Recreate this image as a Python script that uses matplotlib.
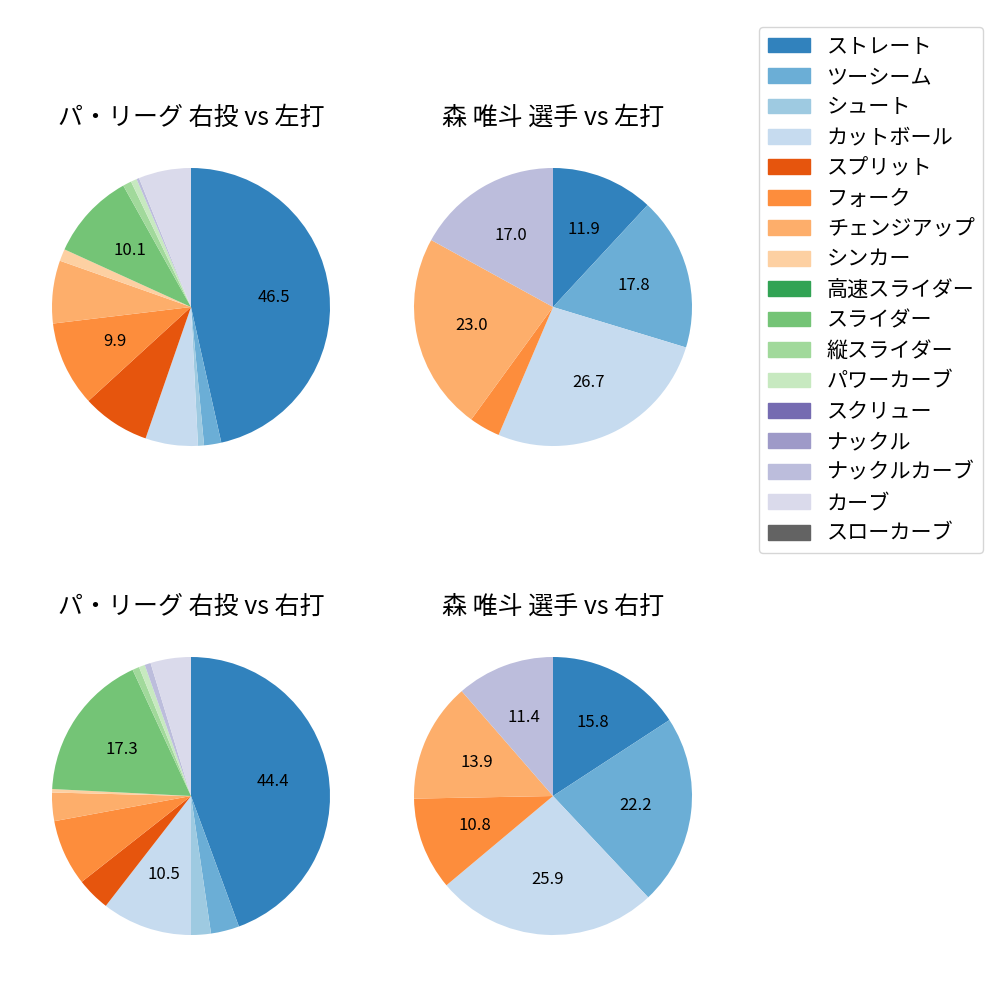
import matplotlib
matplotlib.use("Agg")
import matplotlib.pyplot as plt
from matplotlib.patches import Patch

plt.rcParams['font.family'] = ['Noto Sans CJK JP', 'DejaVu Sans']

pitch_types = ['ストレート', 'ツーシーム', 'シュート', 'カットボール', 'スプリット', 'フォーク',
               'チェンジアップ', 'シンカー', '高速スライダー', 'スライダー', '縦スライダー',
               'パワーカーブ', 'スクリュー', 'ナックル', 'ナックルカーブ', 'カーブ', 'スローカーブ']

# share of pitches (%) in the same order as pitch_types
league_vs_left = [46.5, 2.0, 0.7, 6.1, 7.9, 9.9, 7.3, 1.4, 0, 10.1, 1.0, 0.7, 0, 0, 0.3, 6.1, 0]
player_vs_left = [11.9, 17.8, 0, 26.7, 0, 3.6, 23.0, 0, 0, 0, 0, 0, 0, 0, 17.0, 0, 0]
league_vs_right = [44.4, 3.3, 2.3, 10.5, 3.9, 7.7, 3.3, 0.4, 0, 17.3, 0.8, 0.7, 0, 0, 0.7, 4.7, 0]
player_vs_right = [15.8, 22.2, 0, 25.9, 0, 10.8, 13.9, 0, 0, 0, 0, 0, 0, 0, 11.4, 0, 0]

titles = ['パ・リーグ 右投 vs 左打', '森 唯斗 選手 vs 左打',
          'パ・リーグ 右投 vs 右打', '森 唯斗 選手 vs 右打']

cmap = plt.get_cmap('tab20c')
colors = [cmap(i) for i in range(len(pitch_types))]


def draw_pie(ax, values, title):
    vals = [v for v in values if v > 0]
    cols = [c for v, c in zip(values, colors) if v > 0]
    ax.pie(vals, colors=cols, startangle=90, counterclock=False,
           autopct=lambda p: '{:.1f}'.format(p) if p >= 9 else '',
           textprops={'fontsize': 12})
    ax.set_title(title, fontsize=18)


fig = plt.figure(figsize=(10, 10), dpi=100)
size = 0.3475
centers = [(0.191, 0.693), (0.553, 0.693), (0.191, 0.204), (0.553, 0.204)]
data = [league_vs_left, player_vs_left, league_vs_right, player_vs_right]
for (cx, cy), values, title in zip(centers, data, titles):
    ax = fig.add_axes([cx - size / 2, cy - size / 2, size, size])
    draw_pie(ax, values, title)

handles = [Patch(color=c, label=l) for c, l in zip(colors, pitch_types)]
fig.legend(handles=handles, loc='upper right', bbox_to_anchor=(0.983, 0.973),
           borderaxespad=0, fontsize=15.2, labelspacing=0.4)

fig.savefig('out.png', dpi=100)
